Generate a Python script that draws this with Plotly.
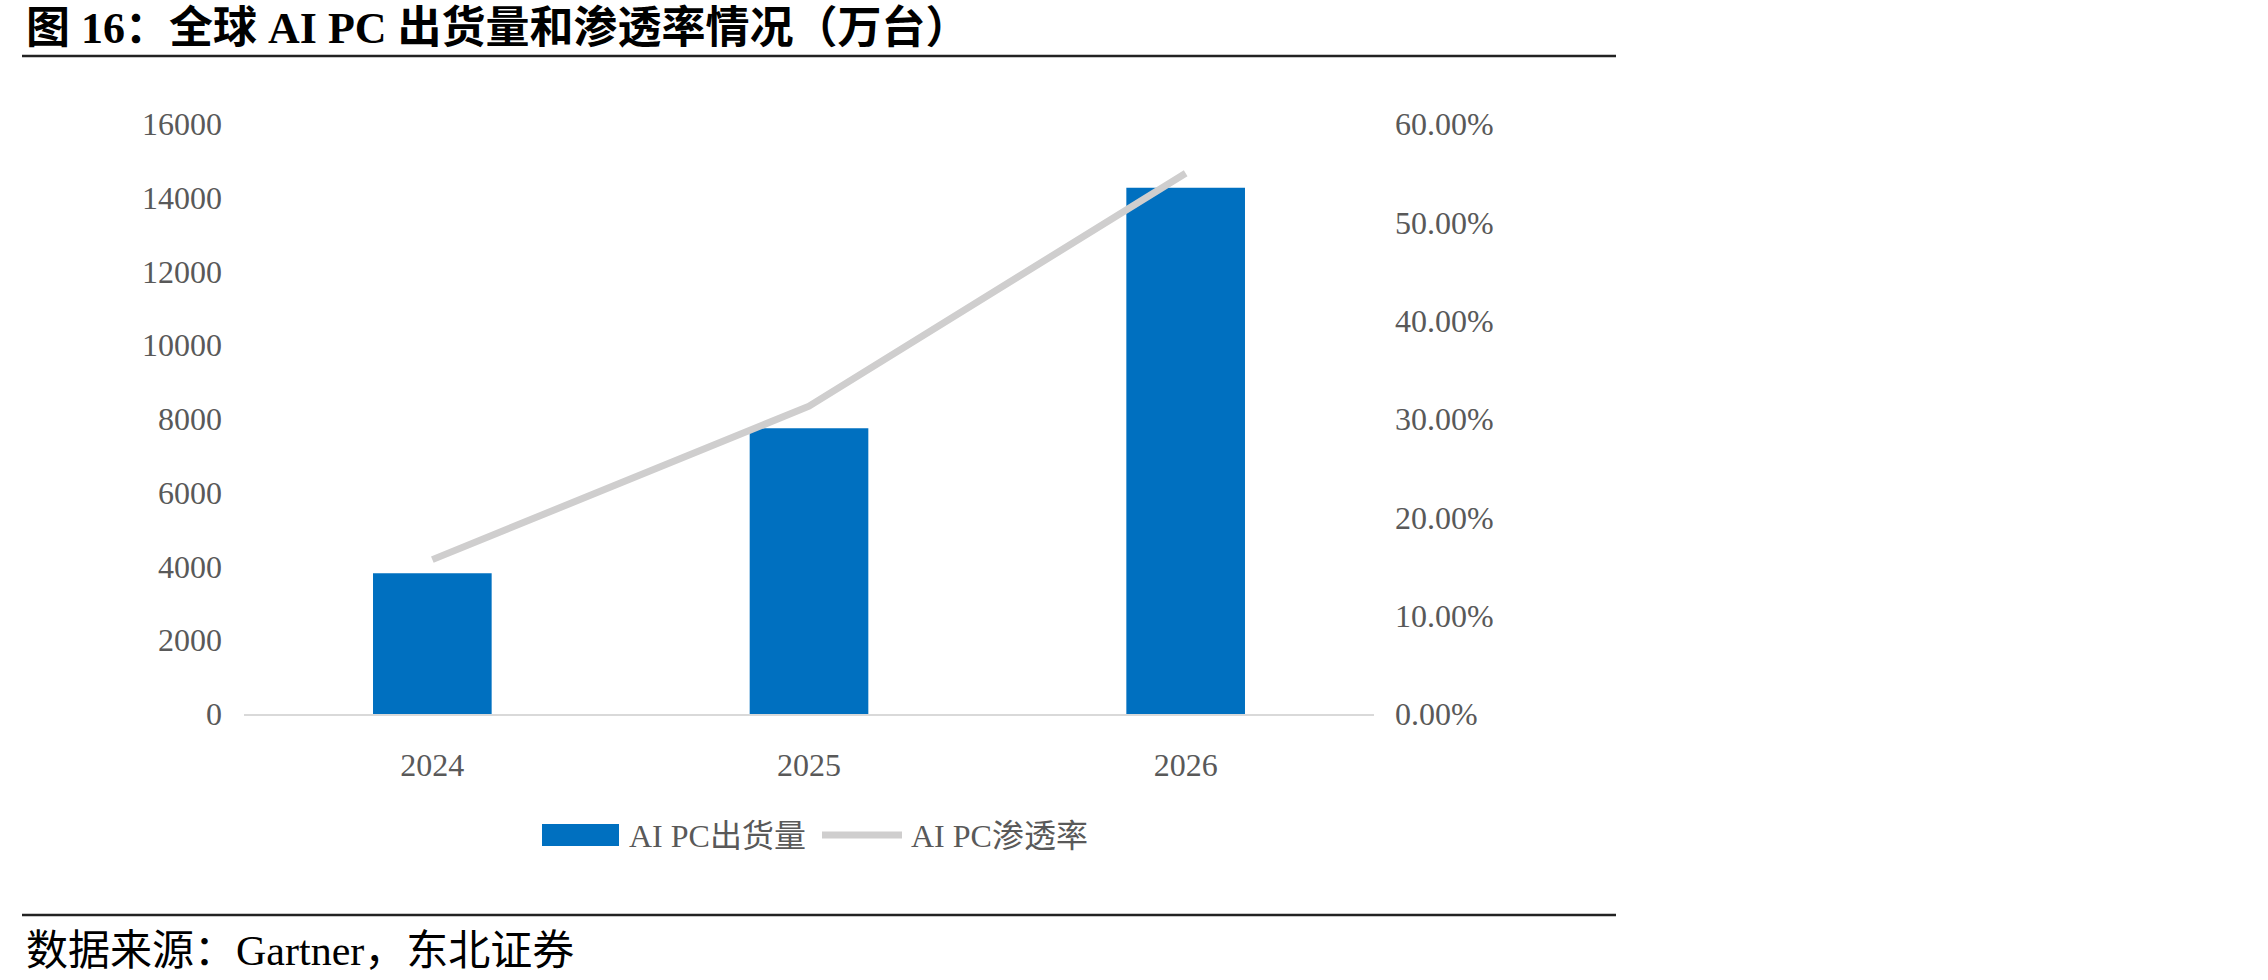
import plotly.graph_objects as go

# ---- data ----
years = ["2024", "2025", "2026"]
shipments = [3820, 7750, 14270]          # 万台
penetration = [0.157, 0.313, 0.550]      # ratio
y_ticks = [0, 2000, 4000, 6000, 8000, 10000, 12000, 14000, 16000]
y2_ticks = [0, 0.1, 0.2, 0.3, 0.4, 0.5, 0.6]

title_text = "图 16：全球 AI PC 出货量和渗透率情况（万台）"
source_text = "数据来源：Gartner，东北证券"
bar_name = "AI PC出货量"
line_name = "AI PC渗透率"

# ---- layout geometry (pixels) ----
W, H = 2268, 980
PL, PR, PT, PB = 244, 1374, 124, 714

def px(x):
    return (x - PL) / (PR - PL)

def py(y):
    return (PB - y) / (PB - PT)

FONT = "Liberation Serif, 'Noto Sans CJK SC', serif"
GRAY = "#595959"
BLUE = "#0070C0"
LGRAY = "#CFCECE"
FS = 32

fig = go.Figure()
fig.add_trace(go.Bar(x=years, y=shipments, name=bar_name, marker_color=BLUE,
                     marker_line_width=0, yaxis="y", showlegend=False))
fig.add_trace(go.Scatter(x=years, y=penetration, name=line_name, mode="lines",
                         line=dict(color=LGRAY, width=7), yaxis="y2", showlegend=False))

fig.update_layout(
    width=W, height=H,
    margin=dict(l=PL, r=W - PR, t=PT, b=H - PB),
    paper_bgcolor="white", plot_bgcolor="white",
    bargap=0.685,
    font=dict(family=FONT, size=FS, color=GRAY),
    xaxis=dict(type="category", showgrid=False, showline=True, linecolor="#D9D9D9",
               linewidth=2, ticks="", ticklabelstandoff=22, zeroline=False,
               tickfont=dict(size=FS, color=GRAY)),
    yaxis=dict(range=[0, 16000], tickvals=y_ticks, tickformat="d", showgrid=False,
               zeroline=False, showline=False, ticks="", ticklabelstandoff=21,
               tickfont=dict(size=FS, color=GRAY)),
    yaxis2=dict(range=[0, 0.6], tickvals=y2_ticks, tickformat=".2%", overlaying="y",
                side="right", showgrid=False, zeroline=False, showline=False, ticks="",
                ticklabelstandoff=20, tickfont=dict(size=FS, color=GRAY)),
)

# title, rules, source
fig.add_annotation(text="<b>" + title_text + "</b>", xref="paper", yref="paper",
                   x=px(24), y=py(29), xanchor="left", yanchor="middle", showarrow=False,
                   font=dict(family="'Liberation Serif', 'Noto Sans CJK SC', serif", size=44, color="#000000"))
fig.add_shape(type="line", xref="paper", yref="paper", x0=px(22), x1=px(1616),
              y0=py(56), y1=py(56), line=dict(color="#222222", width=2.5))
fig.add_shape(type="line", xref="paper", yref="paper", x0=px(22), x1=px(1616),
              y0=py(915), y1=py(915), line=dict(color="#222222", width=2.5))
fig.add_annotation(text=source_text, xref="paper", yref="paper",
                   x=px(24), y=py(951), xanchor="left", yanchor="middle", showarrow=False,
                   font=dict(family=FONT, size=42, color="#000000"))

# legend (manual)
fig.add_shape(type="rect", xref="paper", yref="paper", x0=px(542), x1=px(619),
              y0=py(846), y1=py(824), fillcolor=BLUE, line=dict(width=0))
fig.add_annotation(text=bar_name, xref="paper", yref="paper", x=px(627), y=py(836),
                   xanchor="left", yanchor="middle", showarrow=False,
                   font=dict(family=FONT, size=FS, color=GRAY))
fig.add_shape(type="line", xref="paper", yref="paper", x0=px(822), x1=px(902),
              y0=py(835), y1=py(835), line=dict(color=LGRAY, width=7))
fig.add_annotation(text=line_name, xref="paper", yref="paper", x=px(909), y=py(836),
                   xanchor="left", yanchor="middle", showarrow=False,
                   font=dict(family=FONT, size=FS, color=GRAY))

fig.write_html("out.html")
